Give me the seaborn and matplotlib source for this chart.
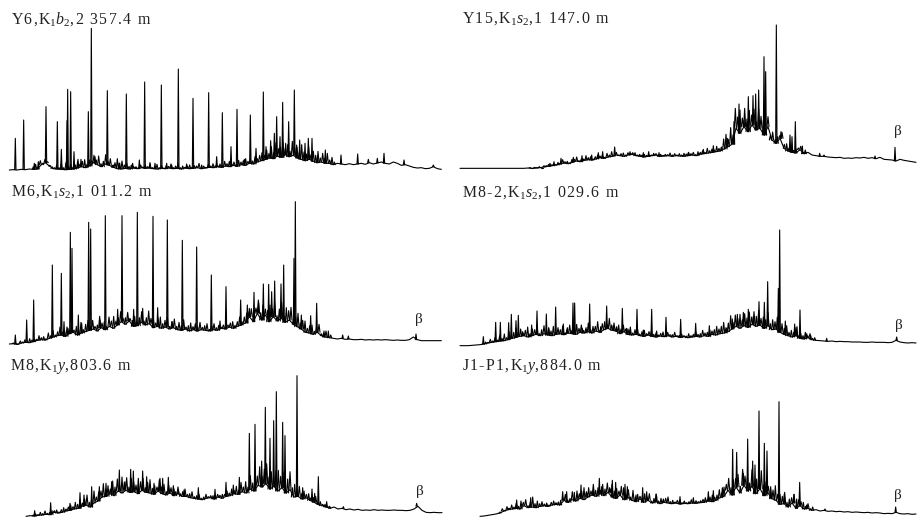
"""Six gas chromatograms of saturated hydrocarbons"""

import numpy as np
import pandas as pd
import seaborn as sns
import matplotlib.pyplot as plt

FIG_W = 918
FIG_H = 517
STEP = 12  # trace sample spacing, response units are 1/3 pixel
GRASS_STEP = 7  # spacing of the small unresolved peaks

y6_title = r"Y6,K$_{1}\mathit{b}_{2}$,2 357.4 m"
y6_signal = [
    2, 3, 2, 4, 3, 5, 4, 5, 18, 24, 14, 6, 5, 4, 3, 4, 5, 8, 12, 9,
    14, 24, 18, 12, 20, 16, 10, 6, 5, 7, 5, 8, 6, 9, 7, 8, 6, 5, 7, 6,
    8, 6, 7, 5, 8, 6, 7, 9, 6, 8, 10, 9, 12, 10, 14, 12, 16, 13, 18, 16,
    22, 20, 26, 30, 34, 38, 36, 44, 40, 48, 42, 46, 38, 34, 30, 34, 28, 24, 26, 22,
    22, 18, 22, 20, 18, 21, 18, 20, 22, 19, 24, 20, 23, 26, 22, 20, 26, 22, 16, 18,
    14, 10, 8, 9, 6, 7, 12, 6, 4,
]
y6_peak_x = [46, 71, 103, 115, 138, 172, 184, 201, 203, 212, 222, 234, 243, 265, 274, 285, 322, 340, 357,
             379, 398, 418, 434, 450, 465, 484, 500, 515, 535, 560, 579, 605, 626, 650, 667, 693, 711,
             733, 751, 768, 790, 798, 812, 823, 830, 840, 848, 857, 866, 883, 890, 899, 915, 925, 936,
             952, 976, 1023, 1073, 1105, 1132, 1152, 1212, 1300]
y6_peak_h = [97, 152, 22, 27, 192, 147, 64, 150, 244, 237, 57, 34, 34, 177, 427, 42, 240, 17, 22,
             230, 22, 32, 266, 24, 22, 257, 22, 17, 305, 20, 217, 17, 234, 42, 174, 72, 184,
             34, 167, 67, 236, 72, 90, 112, 162, 102, 205, 82, 147, 242, 77, 92, 82, 97, 97,
             37, 62, 47, 50, 34, 37, 52, 32, 17]
y6_grass_start = 100
y6_grass = [
    8, 14, 6, 12, 4, 10, 3, 2, 6, 3, 12, 4, 18, 6, 22, 9, 15, 5, 12, 20, 8, 16, 24, 10, 18, 6, 22, 14, 26, 9,
    16, 28, 12, 20, 6, 14, 30, 18, 24, 10, 16, 8, 12, 4, 6, 3, 8, 2, 10, 4,
    12, 3, 6, 14, 4, 8, 2, 10, 5, 12, 3, 7, 14, 4, 9, 2, 6, 11, 3, 8, 5, 13, 3, 6, 2, 9, 4, 12, 6, 3,
    10, 5, 14, 7, 16, 4, 10, 6, 18, 8, 12, 20, 6, 14, 9, 22, 10, 16, 24, 12,
    28, 14, 34, 18, 40, 22, 30, 46, 20, 36, 16, 42, 24, 32, 18, 44, 26, 20, 38, 14, 30, 22, 34, 12, 26, 16, 30, 10, 22, 8,
]

y15_title = r"Y15,K$_{1}\mathit{s}_{2}$,1 147.0 m"
y15_signal = [
    0, 0, 0, 0, 0, 0, 0, 0, 0, 0, 0, 0, 0, 0, 0, 0, 0, 1, 0, 1,
    2, 4, 6, 8, 10, 13, 16, 14, 18, 22, 20, 24, 26, 25, 28, 32, 30, 34, 36, 40,
    38, 36, 40, 42, 38, 36, 34, 36, 38, 40, 36, 37, 38, 36, 38, 37, 36, 38, 40, 38,
    42, 44, 46, 48, 50, 52, 58, 65, 72, 120, 105, 125, 110, 130, 115, 120, 100, 125, 85, 75,
    90, 60, 52, 48, 46, 56, 44, 48, 40, 38, 36, 36, 34, 33, 32, 33, 30, 31, 30, 32,
    31, 33, 30, 32, 29, 33, 27, 26, 25, 22, 27, 24, 22, 20, 18,
]
y15_peak_x = [300, 312, 333, 370, 396, 425, 445, 458, 494, 540, 580, 596, 627, 715, 760, 790, 832, 852,
              867, 882, 895, 909, 917, 926, 942, 947, 979, 993, 1020, 1026, 1036, 1057, 1066, 1109,
              1122, 1275, 1335]
y15_peak_h = [15, 20, 30, 33, 38, 40, 47, 50, 64, 50, 47, 50, 47, 47, 57, 68, 90, 140,
              193, 145, 215, 218, 223, 235, 335, 290, 430, 110, 100, 95, 140, 67, 55, 45,
              40, 37, 63]
y15_grass_start = 240
y15_grass = [
    1, 0, 2, 1, 3, 0, 4, 2, 6, 3, 5, 1, 8, 3, 10, 4, 7, 2, 9, 5, 12, 3, 8, 4, 14, 6, 10, 3, 7, 12,
    5, 9, 3, 11, 6, 14, 4, 8, 2, 6, 10, 4, 7, 3, 5, 9, 2, 6, 4, 8, 3, 5, 2, 7, 4, 3, 6, 2, 5, 3,
    8, 4, 6, 2, 7, 3, 9, 5, 10, 4, 8, 3, 12, 6, 9, 4, 14, 7, 10, 5, 16, 8, 12,
    30, 44, 22, 50, 28, 60, 34, 70, 26, 55, 38, 64, 30, 48, 24, 58, 36, 44, 20, 30, 14, 24, 10, 20, 8, 18, 12, 22, 9, 16,
    6, 12, 5, 10, 4, 8,
]

m6_title = r"M6,K$_{1}\mathit{s}_{2}$,1 011.2 m"
m6_signal = [
    3, 4, 2, 6, 8, 7, 10, 14, 16, 15, 20, 24, 28, 30, 26, 34, 38, 30, 36, 40,
    44, 48, 42, 52, 46, 56, 50, 60, 70, 62, 72, 56, 58, 68, 60, 64, 52, 56, 50, 54,
    48, 52, 46, 44, 48, 42, 46, 42, 46, 44, 42, 46, 44, 50, 48, 54, 50, 56, 60, 66,
    85, 70, 95, 75, 90, 70, 85, 72, 80, 68, 75, 62, 55, 48, 38, 36, 32, 38, 28, 24,
    22, 20, 18, 20, 17, 18, 16, 16, 17, 15, 16, 15, 16, 15, 16, 15, 14, 15, 14, 14,
    16, 24, 16, 13, 13, 13, 13, 13, 13,
]
m6_peak_x = [46, 80, 101, 157, 184, 192, 204, 211, 216, 235, 245, 266, 272, 300, 316, 353, 366, 385, 401,
             412, 428, 459, 473, 502, 516, 547, 590, 634, 660, 678, 722, 742, 748, 762, 776, 790, 806,
             815, 824, 843, 851, 882, 886, 904, 932, 950, 972, 985, 1028, 1045, 1248]
m6_peak_h = [30, 75, 135, 240, 215, 70, 50, 338, 290, 90, 65, 368, 348, 75, 388, 107, 388, 80, 107,
             398, 110, 386, 112, 375, 70, 314, 294, 210, 72, 175, 135, 120, 110, 158, 128, 183, 182,
             160, 192, 183, 240, 260, 430, 90, 88, 125, 42, 42, 30, 27, 33]
m6_grass_start = 40
m6_grass = [
    2, 4, 1, 6, 3, 8, 2, 12, 5, 9, 3, 14, 6, 10, 4, 16, 8, 20, 6, 12, 24, 9, 16, 28, 11, 20, 7, 26, 14, 32,
    10, 22, 30, 12, 26, 8, 18, 34, 14, 24, 10, 28, 16, 36, 12, 22, 30, 10, 20, 26, 8, 18, 30, 14, 24, 32, 12, 22, 38, 16,
    28, 10, 24, 34, 14, 20, 30, 8, 18, 26, 10, 22, 14, 28, 6, 16, 24, 9, 18, 12, 22, 7, 14, 20, 5, 12, 18, 8, 15, 4,
    10, 16, 6, 12, 20, 9, 14, 24, 10, 18, 30, 14, 24, 36, 16, 40, 22, 46, 18, 34, 50, 24, 42, 16, 36, 48, 20, 44, 28, 38,
    14, 30, 40, 18, 26, 34, 12, 22, 28, 9, 16, 24, 6, 12, 18, 5, 8,
]

m82_title = r"M8-2,K$_{1}\mathit{s}_{2}$,1 029.6 m"
m82_signal = [
    0, 0, 0, 1, 2, 3, 5, 8, 10, 12, 14, 15, 18, 22, 25, 28, 30, 26, 30, 34,
    30, 36, 32, 30, 34, 36, 33, 38, 36, 34, 40, 38, 42, 38, 44, 40, 48, 52, 46, 44,
    36, 42, 34, 32, 34, 30, 28, 32, 28, 26, 29, 27, 30, 26, 28, 25, 27, 24, 26, 28,
    26, 30, 28, 34, 32, 36, 38, 42, 50, 58, 52, 60, 55, 64, 58, 62, 52, 60, 48, 50,
    40, 34, 30, 26, 30, 22, 20, 24, 18, 16, 15, 14, 13, 14, 12, 13, 12, 12, 11, 11,
    11, 10, 10, 11, 10, 10, 10, 9, 10, 16, 11, 9, 8, 9, 8,
]
m82_peak_x = [100, 137, 151, 176, 184, 198, 205, 218, 245, 261, 289, 296, 317, 340, 351, 369, 374, 397,
              419, 452, 470, 490, 500, 517, 530, 540, 561, 580, 605, 620, 648, 692, 737, 778, 830, 847,
              862, 880, 895, 910, 927, 943, 953, 985, 989, 1006, 1034, 1041, 1050, 1070, 1082, 1130, 1340]
m82_peak_h = [27, 70, 70, 69, 94, 75, 91, 42, 62, 104, 95, 52, 116, 65, 47, 128, 128, 52,
              125, 57, 119, 59, 57, 112, 52, 47, 109, 47, 109, 44, 85, 79, 67, 60, 52, 80,
              94, 100, 109, 87, 132, 130, 192, 172, 347, 74, 65, 57, 107, 36, 30, 22, 26]
m82_grass_start = 100
m82_grass = [
    3, 6, 2, 9, 4, 12, 5, 16, 8, 20, 6, 24, 10, 18, 28, 12, 22, 8, 16, 30, 10, 20, 14, 26, 6, 18, 24, 10, 22, 14,
    28, 8, 20, 12, 26, 6, 16, 24, 10, 18, 30, 12, 22, 8, 16, 26, 10, 20, 14, 28, 6, 18, 24, 12, 30, 16, 22, 10, 26, 14,
    20, 8, 16, 24, 6, 14, 20, 5, 12, 18, 4, 10, 16, 6, 12, 3, 8, 14, 4, 10, 3, 7, 12, 2, 6, 10, 3, 5, 12, 4,
    8, 14, 6, 10, 16, 8, 12, 20, 10, 16, 26, 14, 22, 32, 16, 26, 40, 20, 34, 24, 42, 18, 36, 28, 46, 22, 38, 30, 44, 20,
    34, 26, 40, 18, 30, 22, 36, 14, 26, 18, 30, 10, 20, 14, 24, 8, 16, 10, 20, 6, 12, 4, 8,
]

m8_title = r"M8,K$_{1}\mathit{y}$,803.6 m"
m8_signal = [
    2, 4, 3, 5, 6, 8, 7, 14, 12, 14, 18, 20, 24, 26, 32, 36, 30, 42, 48, 60,
    62, 70, 64, 78, 72, 80, 74, 76, 70, 80, 74, 72, 68, 78, 70, 66, 72, 64, 70, 62,
    62, 58, 56, 54, 52, 56, 58, 54, 60, 56, 62, 64, 70, 68, 76, 72, 84, 78, 95, 90,
    100, 84, 92, 78, 88, 72, 82, 60, 62, 54, 58, 50, 44, 38, 34, 30, 26, 30, 24, 26,
    22, 24, 21, 23, 20, 21, 20, 22, 20, 21, 20, 20, 21, 20, 20, 19, 20, 24, 32, 20,
    14, 13, 14, 13, 13,
]
m8_peak_x = [104, 152, 210, 240, 252, 275, 298, 318, 335, 358, 375, 392, 400, 415, 428, 440, 462, 480, 488,
             505, 522, 535, 552, 595, 645, 678, 700, 718, 748, 765, 785, 796, 810, 821, 829, 848, 855,
             891, 908, 936, 944, 955, 980, 1030, 1250]
m8_peak_h = [19, 43, 41, 73, 66, 91, 91, 101, 106, 141, 106, 143, 138, 91, 138, 121, 101, 116, 116,
             119, 84, 81, 81, 88, 83, 104, 96, 119, 251, 278, 168, 329, 236, 289, 376, 284, 244,
             424, 88, 84, 71, 121, 46, 31, 41]
m8_grass_start = 100
m8_grass = [
    3, 6, 2, 8, 4, 10, 3, 7, 12, 5, 9, 3, 8, 14, 6, 10, 16, 7, 20, 12, 26, 10, 18, 30, 14, 24, 36, 12, 28, 18,
    40, 22, 32, 14, 44, 26, 36, 18, 48, 24, 38, 16, 42, 30, 20, 46, 26, 36, 14, 30, 40, 18, 26, 12, 34, 20, 28, 10, 24, 16,
    30, 12, 20, 8, 14, 22, 6, 12, 18, 5, 10, 14, 4, 8, 12, 3, 6, 10, 4, 8, 5, 12, 6, 16, 8, 20, 10, 24, 12, 28,
    14, 34, 18, 40, 24, 48, 28, 56, 32, 44, 60, 36, 52, 30, 46, 62, 34, 48, 26, 42, 54, 28, 38, 20, 30, 16, 24, 10, 20, 8,
    14, 18, 6, 12, 4, 8, 3, 6,
]

j1_title = r"J1-P1,K$_{1}\mathit{y}$,884.0 m"
j1_signal = [
    2, 3, 5, 7, 9, 12, 18, 22, 24, 26, 24, 34, 28, 30, 28, 32, 34, 32, 36, 38,
    36, 50, 44, 52, 48, 56, 52, 60, 66, 62, 70, 64, 74, 60, 56, 66, 52, 58, 50, 46,
    54, 44, 50, 42, 46, 40, 44, 42, 40, 42, 39, 41, 40, 42, 41, 43, 44, 48, 46, 50,
    58, 62, 80, 66, 90, 72, 95, 78, 92, 70, 85, 64, 72, 55, 50, 38, 40, 30, 42, 26,
    34, 24, 26, 20, 22, 18, 20, 17, 18, 16, 17, 15, 16, 14, 15, 14, 13, 14, 12, 13,
    12, 10, 11, 10, 14, 10, 9, 10, 8, 9,
]
j1_peak_x = [175, 200, 242, 290, 338, 350, 373, 393, 412, 430, 448, 455, 480, 487, 497, 525, 532, 558,
             578, 590, 618, 640, 690, 730, 775, 790, 817, 848, 860, 880, 893, 908, 915, 927, 943, 951,
             962, 987, 1003, 1032, 1040, 1049, 1070, 1125, 1337]
j1_peak_h = [26, 51, 58, 36, 76, 76, 74, 96, 71, 81, 116, 91, 84, 110, 104, 98, 91, 66,
             88, 76, 69, 54, 61, 58, 76, 79, 88, 203, 194, 131, 234, 168, 156, 318, 221, 198,
             78, 346, 69, 68, 54, 104, 36, 24, 30]
j1_grass_start = 150
j1_grass = [
    3, 7, 2, 9, 4, 12, 6, 16, 8, 24, 10, 18, 6, 14, 30, 12, 20, 8, 14, 5, 10, 4, 8, 12, 5, 9, 14, 6, 18, 8,
    12, 24, 10, 30, 14, 22, 36, 16, 28, 12, 32, 18, 26, 10, 34, 20, 28, 14, 38, 22, 30, 12, 26, 36, 16, 24, 10, 30, 14, 22,
    8, 18, 26, 10, 20, 6, 14, 22, 8, 16, 5, 12, 18, 6, 10, 3, 8, 12, 4, 7, 3, 6, 10, 4, 8, 3, 6, 9, 14, 6,
    12, 20, 10, 16, 24, 14, 28, 18, 36, 22, 46, 26, 38, 20, 48, 28, 40, 24, 50, 30, 44, 22, 54, 32, 42, 20, 36, 26, 44, 18,
    30, 22, 34, 14, 24, 16, 26, 10, 18, 12, 20, 8, 14, 5, 10,
]

panel_crops = [(0, 0, 450, 180), (450, 0, 468, 180), (0, 175, 450, 180),
               (450, 175, 468, 180), (0, 345, 450, 172), (450, 345, 468, 172)]
panel_bases = [512, 505, 510, 512, 516, 516]
trace_starts = [28, 30, 28, 30, 78, 90]


def draw_panel(fig, crop, base, start, signal, peak_x, peak_h, grass_start, grass):
    x0, y0, w, h = crop
    ax = fig.add_axes([x0 / FIG_W, 1 - (y0 + h) / FIG_H, w / FIG_W, h / FIG_H])
    ax.patch.set_alpha(0)

    signal = np.array(signal)
    rt = start + STEP * np.arange(len(signal))
    sns.lineplot(x=rt, y=signal, ax=ax, color="black", lw=0.8, estimator=None, sort=False, legend=False)

    # each peak stands on the nearest trace sample
    rows = []
    for i, (px, top) in enumerate(zip(peak_x, peak_h)):
        foot = signal[np.abs(rt - px).argmin()]
        rows += [(i, px - 2, min(foot, top)), (i, px, top), (i, px + 2, min(foot, top))]
    for i, extra in enumerate(grass):
        px = grass_start + GRASS_STEP * i
        foot = signal[np.abs(rt - px).argmin()]
        rows += [(1000 + i, px - 3, foot), (1000 + i, px, foot + extra), (1000 + i, px + 3, foot)]
    peaks = pd.DataFrame(rows, columns=["peak", "rt", "response"])
    sns.lineplot(data=peaks, x="rt", y="response", units="peak", ax=ax, color="black", lw=0.8,
                 estimator=None, sort=False, legend=False)

    ax.set_xlim(0, w * 3)
    ax.set_ylim(base - h * 3, base)
    ax.axis("off")


def spaced(text):
    # the captions are letter spaced, so put hair spaces between plain characters
    parts = text.split("$")
    parts[0::2] = ["\u200a".join(p) for p in parts[0::2]]
    return "$".join(parts)


def label(fig, x, y, text, size=11.4, ha="left"):
    fig.text(x / FIG_W, 1 - y / FIG_H, text, fontsize=size, ha=ha, va="center", color="#222222")


sns.set_theme(style="white")
plt.rcParams["font.family"] = ["Liberation Serif", "DejaVu Serif"]
plt.rcParams["mathtext.fontset"] = "custom"
plt.rcParams["mathtext.rm"] = "Liberation Serif"
plt.rcParams["mathtext.it"] = "Liberation Serif:italic"

fig = plt.figure(figsize=(FIG_W / 100, FIG_H / 100), dpi=100)

draw_panel(fig, panel_crops[0], panel_bases[0], trace_starts[0], y6_signal, y6_peak_x, y6_peak_h, y6_grass_start, y6_grass)
draw_panel(fig, panel_crops[1], panel_bases[1], trace_starts[1], y15_signal, y15_peak_x, y15_peak_h, y15_grass_start, y15_grass)
draw_panel(fig, panel_crops[2], panel_bases[2], trace_starts[2], m6_signal, m6_peak_x, m6_peak_h, m6_grass_start, m6_grass)
draw_panel(fig, panel_crops[3], panel_bases[3], trace_starts[3], m82_signal, m82_peak_x, m82_peak_h, m82_grass_start, m82_grass)
draw_panel(fig, panel_crops[4], panel_bases[4], trace_starts[4], m8_signal, m8_peak_x, m8_peak_h, m8_grass_start, m8_grass)
draw_panel(fig, panel_crops[5], panel_bases[5], trace_starts[5], j1_signal, j1_peak_x, j1_peak_h, j1_grass_start, j1_grass)

label(fig, 11, 19, spaced(y6_title))
label(fig, 462, 19, spaced(y15_title))
label(fig, 11, 192, spaced(m6_title))
label(fig, 462, 193, spaced(m82_title))
label(fig, 10, 366, spaced(m8_title))
label(fig, 462, 366, spaced(j1_title))

label(fig, 898, 132, "β", size=11, ha="center")
label(fig, 419, 320, "β", size=11, ha="center")
label(fig, 899, 325, "β", size=11, ha="center")
label(fig, 420, 491, "β", size=11, ha="center")
label(fig, 898, 496, "β", size=11, ha="center")

fig.savefig("out.png", dpi=100)
